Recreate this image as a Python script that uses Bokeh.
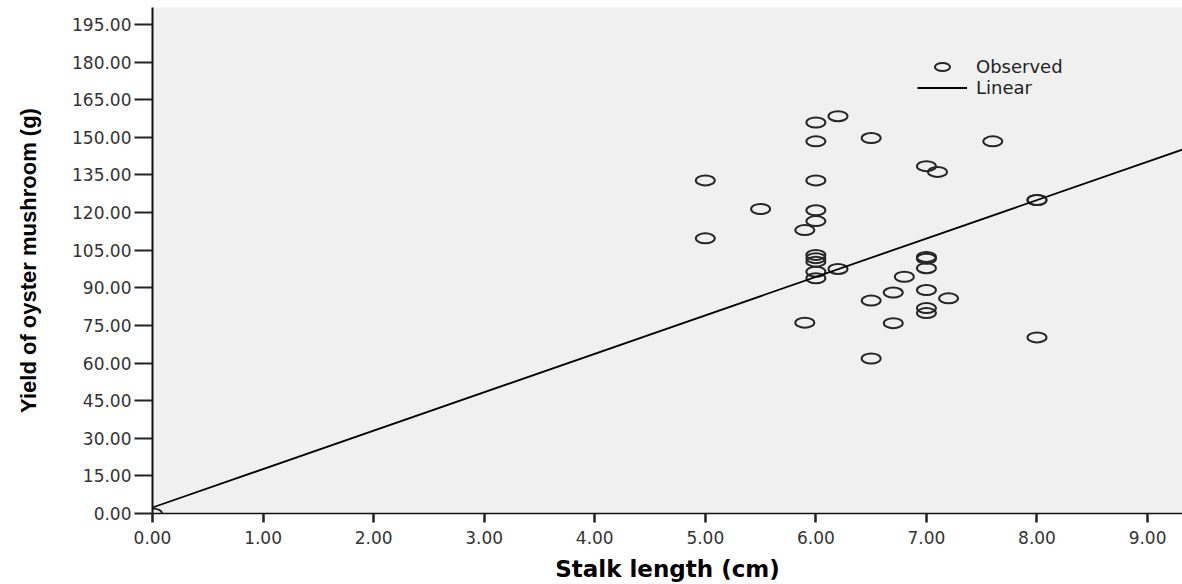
from bokeh.plotting import figure
from bokeh.models import (Range1d, FixedTicker, NumeralTickFormatter, Legend,
                          LegendItem, ColumnDataSource)
from bokeh.embed import file_html
from bokeh.resources import INLINE

# ---- data ----
stalk_length = [6.2, 6.0, 6.0, 6.5, 7.6, 7.0, 7.1, 5.0, 6.0, 8.0, 8.0, 5.5,
                6.0, 6.0, 5.9, 5.0, 6.0, 6.0, 6.0, 7.0, 7.0, 7.0, 6.2, 6.0,
                6.0, 6.8, 6.7, 7.0, 6.5, 7.2, 7.0, 7.0, 5.9, 6.7, 8.0, 6.5, 0.0]
yield_g = [158.4, 155.9, 148.4, 149.7, 148.4, 138.5, 136.2, 132.8, 132.8,
           125.0, 125.0, 121.4, 120.9, 116.6, 113.0, 109.7, 103.1, 101.8,
           100.4, 102.3, 101.6, 97.8, 97.5, 96.4, 93.8, 94.4, 88.1, 89.1,
           84.9, 85.8, 81.9, 79.9, 76.1, 75.9, 70.2, 61.8, 0.0]

fit_intercept = 2.4
fit_slope = 15.32
fit_x = [0.0, 9.5]
fit_y = [fit_intercept + fit_slope * v for v in fit_x]

x_ticks = [0, 1, 2, 3, 4, 5, 6, 7, 8, 9]
y_ticks = [0, 15, 30, 45, 60, 75, 90, 105, 120, 135, 150, 165, 180, 195]

x_label = "Stalk length (cm)"
y_label = "Yield of oyster mushroom (g)"

# ---- figure ----
p = figure(width=1182, height=584, output_backend="svg", toolbar_location=None,
           x_range=Range1d(0, 9.316), y_range=Range1d(0, 201.75),
           min_border_left=152, min_border_right=0, min_border_top=7,
           min_border_bottom=70,
           background_fill_color="#f0f0f0", border_fill_color="white",
           outline_line_color=None)
p.grid.visible = False

src = ColumnDataSource(dict(x=stalk_length, y=yield_g))
r_pts = p.ellipse(x="x", y="y", width=19, height=10, width_units="screen",
                  height_units="screen", source=src, fill_color=None,
                  line_color="#262626", line_width=2)
r_line = p.line(fit_x, fit_y, line_color="black", line_width=1.8)

# axes
for ax in (p.xaxis[0], p.yaxis[0]):
    ax.formatter = NumeralTickFormatter(format="0.00")
    ax.minor_tick_line_color = None
    ax.major_tick_in = 0
    ax.axis_line_color = "#111111"
    ax.major_tick_line_color = "#222222"
    ax.major_label_text_font = "DejaVu Sans"
    ax.major_label_text_font_size = "17px"
    ax.major_label_text_color = "#333333"
    ax.axis_label_text_color = "black"
    ax.axis_label_text_font_style = "bold"

p.xaxis.ticker = FixedTicker(ticks=x_ticks)
p.yaxis.ticker = FixedTicker(ticks=y_ticks)

p.yaxis.axis_line_width = 2
p.yaxis.major_tick_out = 18
p.yaxis.major_tick_line_width = 2
p.yaxis.major_label_standoff = 3
p.yaxis.axis_label = y_label
p.yaxis.axis_label_text_font = "Liberation Sans"
p.yaxis.axis_label_text_font_size = "22px"
p.yaxis.axis_label_standoff = 28

p.xaxis.axis_line_width = 1.5
p.xaxis.major_tick_out = 9
p.xaxis.major_tick_line_width = 2.5
p.xaxis.major_label_standoff = 8
p.xaxis.axis_label = x_label
p.xaxis.axis_label_text_font = "DejaVu Sans"
p.xaxis.axis_label_text_font_size = "23px"
p.xaxis.axis_label_standoff = 9

legend = Legend(items=[LegendItem(label="Observed", renderers=[r_pts]),
                       LegendItem(label="Linear", renderers=[r_line])],
                location=(765, 415), glyph_width=50, glyph_height=19,
                label_height=19, spacing=0, padding=0, margin=0,
                label_standoff=9, background_fill_alpha=0,
                border_line_color=None, label_text_font="DejaVu Sans",
                label_text_font_size="18px", label_text_color="#222222")
p.add_layout(legend)

open("out.html", "w").write(file_html(p, INLINE))
